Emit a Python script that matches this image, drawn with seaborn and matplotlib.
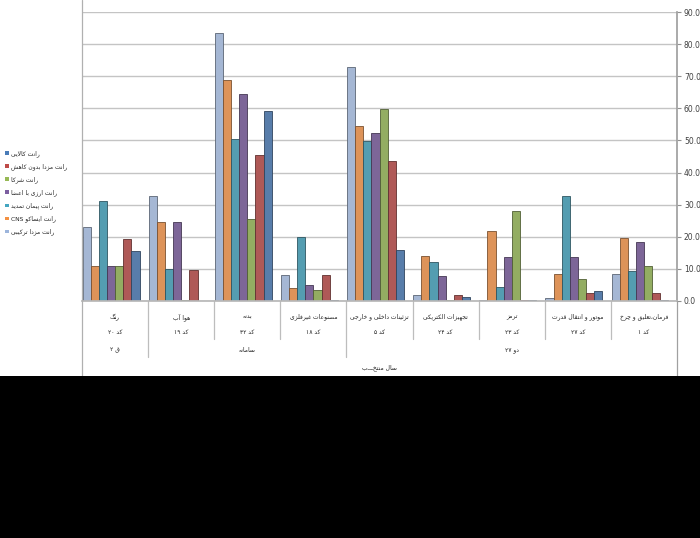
import re
import numpy as np
import pandas as pd
import matplotlib
matplotlib.use("Agg")
import matplotlib.pyplot as plt
import matplotlib.transforms as mtrans
from matplotlib.patches import Rectangle, Patch
from matplotlib.lines import Line2D
import seaborn as sns

# ---- data -------------------------------------------------------------
categories = ["رنگ", "هوا آب", "بدنه", "مصنوعات غیرفلزی", "تزئینات داخلی و خارجی",
              "تجهیزات الکتریکی", "ترمز", "موتور و انتقال قدرت", "فرمان،تعلیق و چرخ"]
codes = ["کد ۲۰", "کد ۱۹", "کد ۳۲", "کد ۱۸", "کد ۵", "کد ۲۴", "کد ۲۳", "کد ۲۷", "کد ۱"]
groups = ["ق ۲", "سامانه", "دو ۲۷"]
group_spans = [(0, 1), (1, 4), (4, 9)]
axis_title = "سال منتخـــب"

series = ["رانت مزدا ترکیبی", "رانت ایساکو CNS", "رانت پیمان تمدید", "رانت ارزی با اعضا",
          "رانت شرکا", "رانت مزدا بدون کاهش", "رانت کالایی"]
light_blue = [23.0, 32.8, 83.4, 8.0, 73.0, 1.8, 0.3, 0.8, 8.3]
orange = [11.0, 24.6, 68.8, 4.1, 54.4, 14.1, 21.9, 8.3, 19.6]
teal = [31.2, 10.0, 50.6, 19.8, 49.8, 12.3, 4.5, 32.8, 9.3]
purple = [11.0, 24.6, 64.5, 5.0, 52.3, 7.7, 13.6, 13.6, 18.3]
green = [10.8, 0.3, 25.6, 3.3, 59.8, 0.3, 28.1, 7.0, 10.8]
red = [19.3, 9.5, 45.4, 8.0, 43.7, 2.0, 0.3, 2.4, 2.4]
blue = [15.7, 0.1, 59.3, 0.2, 16.0, 1.2, 0.2, 3.1, 0.2]
values = [light_blue, orange, teal, purple, green, red, blue]
colors = ["#9DB5DC", "#F39143", "#45A6C0", "#7C5EA0", "#97B955", "#BE4B48", "#4A7CB8"]
yticks = [0, 10, 20, 30, 40, 50, 60, 70, 80, 90]

# ---- small persian shaper (no reshaper lib available) ------------------
DUAL = {'ب': 0xFE8F, 'ت': 0xFE95, 'ث': 0xFE99, 'ج': 0xFE9D, 'ح': 0xFEA1, 'خ': 0xFEA5,
        'س': 0xFEB1, 'ش': 0xFEB5, 'ص': 0xFEB9, 'ض': 0xFEBD, 'ط': 0xFEC1, 'ظ': 0xFEC5,
        'ع': 0xFEC9, 'غ': 0xFECD, 'ف': 0xFED1, 'ق': 0xFED5, 'ل': 0xFEDD, 'م': 0xFEE1,
        'ن': 0xFEE5, 'ه': 0xFEE9, 'پ': 0xFB56, 'چ': 0xFB7A, 'ک': 0xFB8E, 'گ': 0xFB92,
        'ی': 0xFBFC, 'ئ': 0xFE89}
RIGHT = {'ا': 0xFE8D, 'آ': 0xFE81, 'د': 0xFEA9, 'ذ': 0xFEAB, 'ر': 0xFEAD, 'ز': 0xFEAF,
         'و': 0xFEED, 'ژ': 0xFB8A, 'ة': 0xFE93}


def shape(s):
    s = s.replace('ي', 'ی').replace('ك', 'ک')
    chars = list(s)
    n = len(chars)
    out = []
    i = 0
    while i < n:
        c = chars[i]
        prev_j = i > 0 and chars[i - 1] in DUAL and (c in DUAL or c in RIGHT)
        if c == 'ل' and i + 1 < n and chars[i + 1] == 'ا':
            out.append(chr(0xFEFC if prev_j else 0xFEFB))
            i += 2
            continue
        if c in DUAL:
            next_j = i + 1 < n and (chars[i + 1] in DUAL or chars[i + 1] in RIGHT)
            k = {(False, False): 0, (True, False): 1, (False, True): 2, (True, True): 3}[(prev_j, next_j)]
            out.append(chr(DUAL[c] + k))
        elif c in RIGHT:
            out.append(chr(RIGHT[c] + (1 if prev_j else 0)))
        elif c == '\u0640':
            out.append(c)
        elif c != '\u200c':
            out.append(c)
        i += 1
    return ''.join(out)


def fa(s):
    # kashida joins both sides
    s = shape(s.replace('ـ', 'ـ'))
    tokens = re.findall(r'[A-Za-z0-9\u06F0-\u06F9.]+|[^A-Za-z0-9\u06F0-\u06F9.]+', s)
    vis = []
    for t in reversed(tokens):
        if re.match(r'[A-Za-z0-9\u06F0-\u06F9.]', t):
            vis.append(t)
        else:
            vis.append(t[::-1])
    return ''.join(vis)


# ---- figure -----------------------------------------------------------
sns.set_theme(style="white")
plt.rcParams['font.family'] = ['DejaVu Sans']

W, H = 700, 538
fig = plt.figure(figsize=(7.0, 5.38), dpi=100)
x0, x1, y0, y1 = 82, 677, 301, 12
ax = fig.add_axes([x0 / W, 1 - y0 / H, (x1 - x0) / W, (y0 - y1) / H])

df = pd.DataFrame({
    "cat": np.repeat(np.arange(len(categories)), len(series)),
    "series": series * len(categories),
    "value": np.array(values).T.ravel(),
})
sns.barplot(data=df, x="cat", y="value", hue="series", hue_order=series,
            palette=colors, width=0.86, gap=0, ax=ax, legend=False,
            order=list(range(len(categories))))

for p in ax.patches:
    fc = np.array(p.get_facecolor()[:3])
    p.set_edgecolor(tuple(fc * 0.55))
    p.set_linewidth(0.6)

shift = 0.44
ax.set_xlim(-shift, len(categories) - shift)
ax.set_ylim(0, 90)
ax.set_yticks(yticks)
ax.set_yticklabels([f"{v:.1f}" for v in yticks], fontsize=5.5, color="#404040")
ax.yaxis.tick_right()
ax.tick_params(axis="y", direction="out", length=3, width=0.8, color="#909090", pad=2)
ax.set_xticks([])
ax.set_xlabel("")
ax.set_ylabel("")
ax.yaxis.grid(True, color="#C4C4C4", lw=1)
ax.set_axisbelow(True)
for side in ["top", "left"]:
    ax.spines[side].set_visible(False)
ax.spines["right"].set_color("#A0A0A0")
ax.spines["bottom"].set_color("#B8B8B8")

# ---- category table under the plot ------------------------------------
tr = mtrans.blended_transform_factory(ax.transData, ax.transAxes)
ph = y0 - y1


def ay(py):
    return (y0 - py) / ph


line_kw = dict(color="#BDBDBD", lw=0.9, clip_on=False, transform=tr)
for k in range(1, len(categories)):
    bottom = 357 if k in (1, 4) else 339
    ax.add_line(Line2D([k - shift, k - shift], [0, ay(bottom)], **line_kw))

for i, (cat, code) in enumerate(zip(categories, codes)):
    ax.text(i + 0.5 - shift, ay(317), fa(cat), transform=tr, ha="center", va="center",
            fontsize=4.3, color="#202020")
    ax.text(i + 0.5 - shift, ay(332), fa(code), transform=tr, ha="center", va="center",
            fontsize=4.3, color="#202020")
for g, (a, b) in zip(groups, group_spans):
    ax.text((a + b) / 2 - shift, ay(350), fa(g), transform=tr, ha="center", va="center",
            fontsize=4.3, color="#202020")
ax.text(len(categories) / 2 - shift, ay(368), fa(axis_title), transform=tr,
        ha="center", va="center", fontsize=4.3, color="#202020")

# outer walls of the chart
fig.add_artist(Line2D([x0 / W, x0 / W], [1, 1 - 376 / H], color="#B0B0B0", lw=0.9))
fig.add_artist(Line2D([x1 / W, x1 / W], [1 - y0 / H, 1 - 376 / H], color="#A0A0A0", lw=0.9))

# black lower band
fig.add_artist(Rectangle((0, 0), 1, 1 - 376 / H, transform=fig.transFigure,
                         facecolor="black", edgecolor="none", zorder=5))

# ---- legend -------------------------------------------------------------
handles = [Patch(facecolor=c, edgecolor="none") for c in reversed(colors)]
labels = [fa(s) for s in reversed(series)]
fig.legend(handles, labels, loc="upper left", bbox_to_anchor=(0.004, 1 - 148 / H),
           frameon=False, fontsize=4.3, handlelength=0.6, handleheight=0.6,
           handletextpad=0.4, labelspacing=1.05, borderaxespad=0)

fig.savefig("out.png", dpi=100, facecolor="white")
